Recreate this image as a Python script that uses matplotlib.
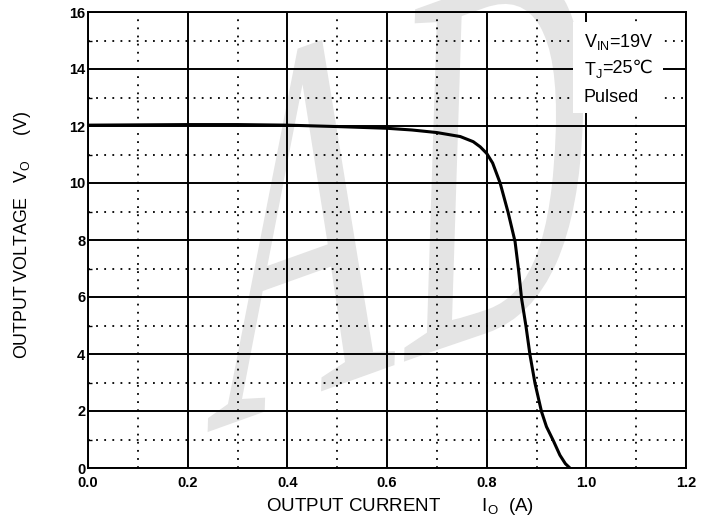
import matplotlib
matplotlib.use("Agg")
import matplotlib.pyplot as plt
import numpy as np
from matplotlib.textpath import TextPath
from matplotlib.patches import PathPatch
from matplotlib.font_manager import FontProperties
from matplotlib.transforms import Affine2D

plt.rcParams['font.family'] = ['Liberation Sans', 'DejaVu Sans']
plt.rcParams['mathtext.fontset'] = 'custom'
plt.rcParams['mathtext.rm'] = 'Liberation Sans'

# Data
current = [0.0, 0.1, 0.2, 0.3, 0.4, 0.5, 0.6, 0.65, 0.70, 0.747, 0.773, 0.787, 0.800, 0.812,
           0.827, 0.843, 0.857, 0.864, 0.870, 0.879, 0.887, 0.897, 0.910, 0.920, 0.934,
           0.947, 0.958, 0.967]
voltage = [12.03, 12.04, 12.05, 12.05, 12.03, 11.98, 11.92, 11.86, 11.77, 11.63, 11.45, 11.27,
           11.04, 10.7, 10.0, 8.97, 7.94, 6.95, 5.95, 4.96, 3.96, 2.97, 1.98, 1.45, 0.95,
           0.45, 0.15, 0.0]

x_ticks = [0.0, 0.2, 0.4, 0.6, 0.8, 1.0, 1.2]
y_ticks = [0, 2, 4, 6, 8, 10, 12, 14, 16]

fig = plt.figure(figsize=(7.15, 5.31), dpi=100)
ax = fig.add_axes([88/715, 1 - 468/531, 598/715, 456/531])

# watermark: tall serif "AD" in light grey, drawn in pixel space behind the grid
wm = TextPath((0, 0), 'AD', size=1, prop=FontProperties(family='Liberation Serif'))
wm_tr = Affine2D(np.array([[265.0, 17.0, 205.0],
                           [95.0, 538.0, 98.0],
                           [0.0, 0.0, 1.0]]))
ax.add_patch(PathPatch(wm, transform=wm_tr, facecolor='#e4e4e4', edgecolor='none',
                       zorder=0.5, clip_on=False))

ax.plot(current, voltage, color='black', lw=2.2, zorder=4)

ax.set_xlim(0, 1.2)
ax.set_ylim(0, 16)
ax.set_xticks(x_ticks)
ax.set_yticks(y_ticks)
ax.set_xticklabels([f'{v:.1f}' for v in x_ticks])
ax.set_xticks(np.arange(0.1, 1.2, 0.2), minor=True)
ax.set_yticks(np.arange(1, 16, 2), minor=True)

ax.grid(which='major', color='black', lw=1.4, zorder=2)
ax.grid(which='minor', color='black', lw=1.3, linestyle=(0, (1, 3.5)), zorder=2)
ax.set_axisbelow(False)

ax.tick_params(which='major', length=0, labelsize=10.5)
ax.tick_params(axis='x', which='major', pad=6)
ax.tick_params(axis='y', which='major', pad=2)
ax.tick_params(which='minor', direction='in', length=3, width=1, bottom=False)
for lab in ax.get_xticklabels() + ax.get_yticklabels():
    lab.set_fontweight('bold')

for s in ax.spines.values():
    s.set_linewidth(1.4)

ax.set_xlabel(r'OUTPUT CURRENT        I$_{\mathregular{O}}$  (A)', fontsize=13.5)
ax.xaxis.set_label_coords(0.5226, -0.062)
ax.set_ylabel(r'OUTPUT VOLTAGE   V$_{\mathregular{O}}$     (V)', fontsize=12.8)
ax.yaxis.set_label_coords(-0.092, 0.51)

# condition notes in a white box
ax.add_patch(plt.Rectangle((0.973, 12.45), 0.18, 3.2, facecolor='white', edgecolor='none', zorder=3))
ax.text(0.995, 14.95, r'V$_{\mathregular{IN}}$=19V', fontsize=13, ha='left', va='center', zorder=5)
tj = ax.text(0.995, 13.97, r'T$_{\mathregular{J}}$', fontsize=13, ha='left', va='center', zorder=5)
ax.annotate('=25℃', xy=(1, 0.5), xycoords=tj, xytext=(0, 1.5), textcoords='offset points',
            fontsize=13, ha='left', va='center', zorder=5)
ax.text(0.995, 12.99, 'Pulsed', fontsize=13, ha='left', va='center', zorder=5)

fig.savefig('out.png', dpi=100)
